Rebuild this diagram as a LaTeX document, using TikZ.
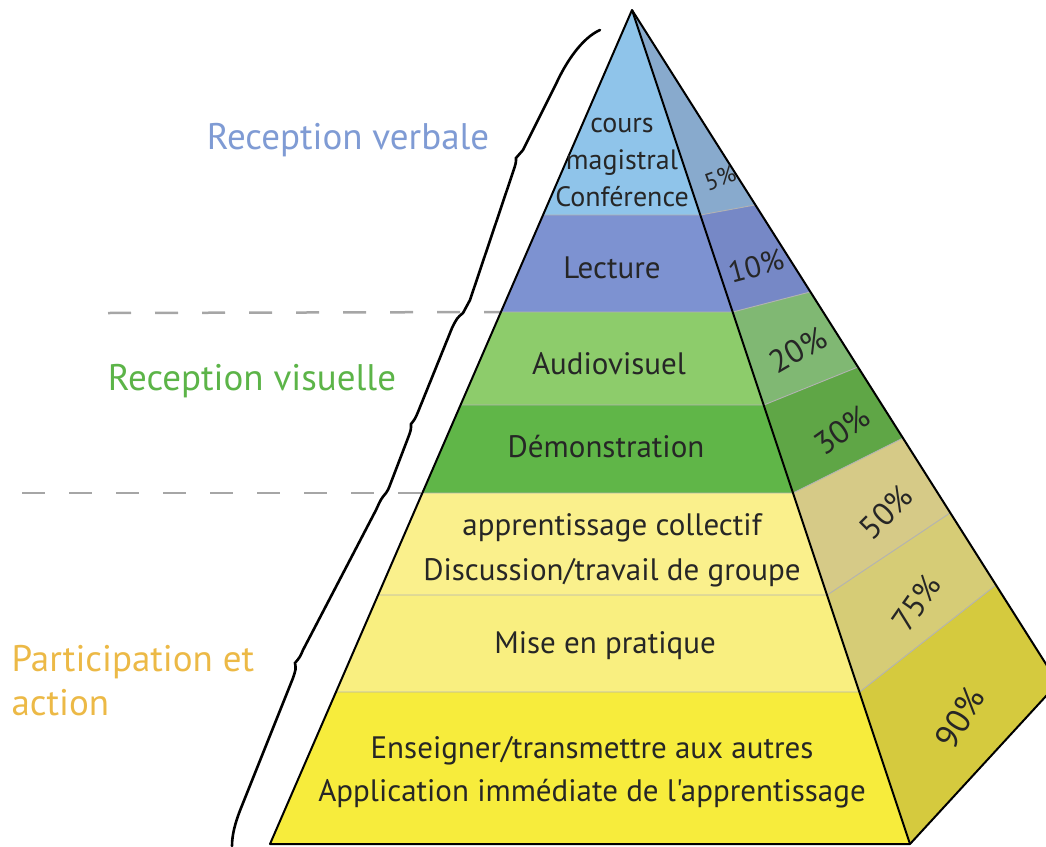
\documentclass[tikz,border=0pt]{standalone}
\usepackage{fontspec}
\setmainfont{PT Sans}[Ligatures=TeXOff]
\usepackage{xcolor}
\usepackage{tikz}

\definecolor{topfront}{RGB}{143,196,234}
\definecolor{topside}{RGB}{136,170,205}
\definecolor{lecfront}{RGB}{125,146,209}
\definecolor{lecside}{RGB}{118,136,198}
\definecolor{audfront}{RGB}{141,204,107}
\definecolor{audside}{RGB}{128,184,115}
\definecolor{demfront}{RGB}{96,182,72}
\definecolor{demside}{RGB}{95,166,70}
\definecolor{colfront}{RGB}{250,240,140}
\definecolor{colside}{RGB}{214,202,135}
\definecolor{prafront}{RGB}{249,239,128}
\definecolor{praside}{RGB}{214,204,118}
\definecolor{ensfront}{RGB}{247,236,60}
\definecolor{ensside}{RGB}{213,202,62}
\definecolor{verbalcol}{RGB}{127,155,212}
\definecolor{visuelcol}{RGB}{92,180,72}
\definecolor{actioncol}{RGB}{236,185,70}

\begin{document}
\begin{tikzpicture}[
  x=1pt, y=-1pt,
  every node/.style={font=\fontsize{31}{40}\selectfont, align=center, text=black!85},
  edge line/.style={draw=black, line width=2pt, line join=round},
  layer line/.style={draw=black!30, line width=0.9pt},
  brace line/.style={draw=black, line width=2.6pt, line cap=round},
  group line/.style={draw=black!35, line width=2.5pt, dash pattern=on 23pt off 24pt},
  pct/.style={font=\fontsize{32}{34}\selectfont, inner sep=0pt},
  group label/.style={font=\fontsize{37}{44}\selectfont, align=left}
  ]

\useasboundingbox (0,0) rectangle (1046,846);

\coordinate (apex) at (632,10);
\coordinate (l1) at (542.9,215);
\coordinate (l2) at (500.7,312);
\coordinate (l3) at (460.3,405);
\coordinate (l4) at (422.1,493);
\coordinate (l5) at (377.8,595);
\coordinate (l6) at (335.6,692);
\coordinate (l7) at (270,844);
\coordinate (i1) at (700.4,215);
\coordinate (i2) at (732.8,312);
\coordinate (i3) at (763.8,405);
\coordinate (i4) at (793.2,493);
\coordinate (i5) at (827.2,595);
\coordinate (i6) at (859.6,692);
\coordinate (i7) at (910,844);
\coordinate (o1) at (755,205);
\coordinate (o2) at (810,292);
\coordinate (o3) at (858,367);
\coordinate (o4) at (903,438);
\coordinate (o5) at (950,513);
\coordinate (o6) at (996,585);
\coordinate (o7) at (1058,683);
\coordinate (d1) at (108,313);
\coordinate (d2) at (22,493);

% dashed group separators
\draw[group line] (d1) -- (l2);
\draw[group line] (d2) -- (l4);

\begin{scope}
\clip (0,0) rectangle (1046,846);
% front face
\fill[topfront] (apex) -- (l1) -- (i1) -- cycle;
\fill[lecfront] (l1) -- (l2) -- (i2) -- (i1) -- cycle;
\fill[audfront] (l2) -- (l3) -- (i3) -- (i2) -- cycle;
\fill[demfront] (l3) -- (l4) -- (i4) -- (i3) -- cycle;
\fill[colfront] (l4) -- (l5) -- (i5) -- (i4) -- cycle;
\fill[prafront] (l5) -- (l6) -- (i6) -- (i5) -- cycle;
\fill[ensfront] (l6) -- (l7) -- (i7) -- (i6) -- cycle;
% side face
\fill[topside] (apex) -- (i1) -- (o1) -- cycle;
\fill[lecside] (i1) -- (i2) -- (o2) -- (o1) -- cycle;
\fill[audside] (i2) -- (i3) -- (o3) -- (o2) -- cycle;
\fill[demside] (i3) -- (i4) -- (o4) -- (o3) -- cycle;
\fill[colside] (i4) -- (i5) -- (o5) -- (o4) -- cycle;
\fill[praside] (i5) -- (i6) -- (o6) -- (o5) -- cycle;
\fill[ensside] (i6) -- (i7) -- (o7) -- (o6) -- cycle;

\draw[layer line] (l1) -- (i1) -- (o1);
\draw[layer line] (l2) -- (i2) -- (o2);
\draw[layer line] (l3) -- (i3) -- (o3);
\draw[layer line] (l4) -- (i4) -- (o4);
\draw[layer line] (l5) -- (i5) -- (o5);
\draw[layer line] (l6) -- (i6) -- (o6);

\draw[edge line] (apex) -- (l7) -- (i7) -- (o7) -- cycle;
\draw[edge line] (apex) -- (i7);
\end{scope}

% braces along the left edge
\draw[brace line] (600,30) .. controls (582,38) and (566,62) .. (556,84)
  -- (523,150) .. controls (520,154) .. (516,158)
  .. controls (516,163) .. (513,172) -- (470,300)
  .. controls (467,307) .. (463,313)
  .. controls (457,318) .. (452,328) -- (418,412)
  .. controls (415,419) .. (411,424)
  .. controls (411,430) .. (408,438) -- (390,485)
  .. controls (388,490) .. (386,493)
  .. controls (381,499) .. (376,510) -- (303,650)
  .. controls (300,657) .. (295,663)
  .. controls (296,669) .. (293,678) -- (241,808)
  .. controls (235,823) and (232,835) .. (232,846);

% layer texts
\node[font=\fontsize{28}{37}\selectfont] (cours) at (622,162) {cours\\magistral\\Conférence};
\node (lecture) at (612,268) {Lecture};
\node (audio) at (609,364) {Audiovisuel};
\node (demo) at (606,447) {Démonstration};
\node[font=\fontsize{31}{45}\selectfont] (collectif) at (612,550) {apprentissage collectif\\Discussion/travail de groupe};
\node (pratique) at (605,646) {Mise en pratique};
\node[font=\fontsize{31}{43}\selectfont] (enseigner) at (592,772) {Enseigner/transmettre aux autres\\Application immédiate de l'apprentissage};

% percentages
\node[pct, font=\fontsize{24}{26}\selectfont, rotate=20] (p5) at (720,178) {5\%};
\node[pct, font=\fontsize{30}{32}\selectfont, rotate=15] (p10) at (756,266) {10\%};
\node[pct, rotate=30] (p20) at (798,350) {20\%};
\node[pct, rotate=35] (p30) at (842,430) {30\%};
\node[pct, rotate=45] (p50) at (886,512) {50\%};
\node[pct, rotate=55] (p75) at (916,603) {75\%};
\node[pct, font=\fontsize{34}{36}\selectfont, rotate=58] (p90) at (960,718) {90\%};

% group labels
\node[group label, text=verbalcol] (verbale) at (348,140) {Reception verbale};
\node[group label, text=visuelcol] (visuelle) at (252,381) {Reception visuelle};
\node[group label, text=actioncol, anchor=west] (action) at (8,681) {Participation et\\action};

\end{tikzpicture}
\end{document}
